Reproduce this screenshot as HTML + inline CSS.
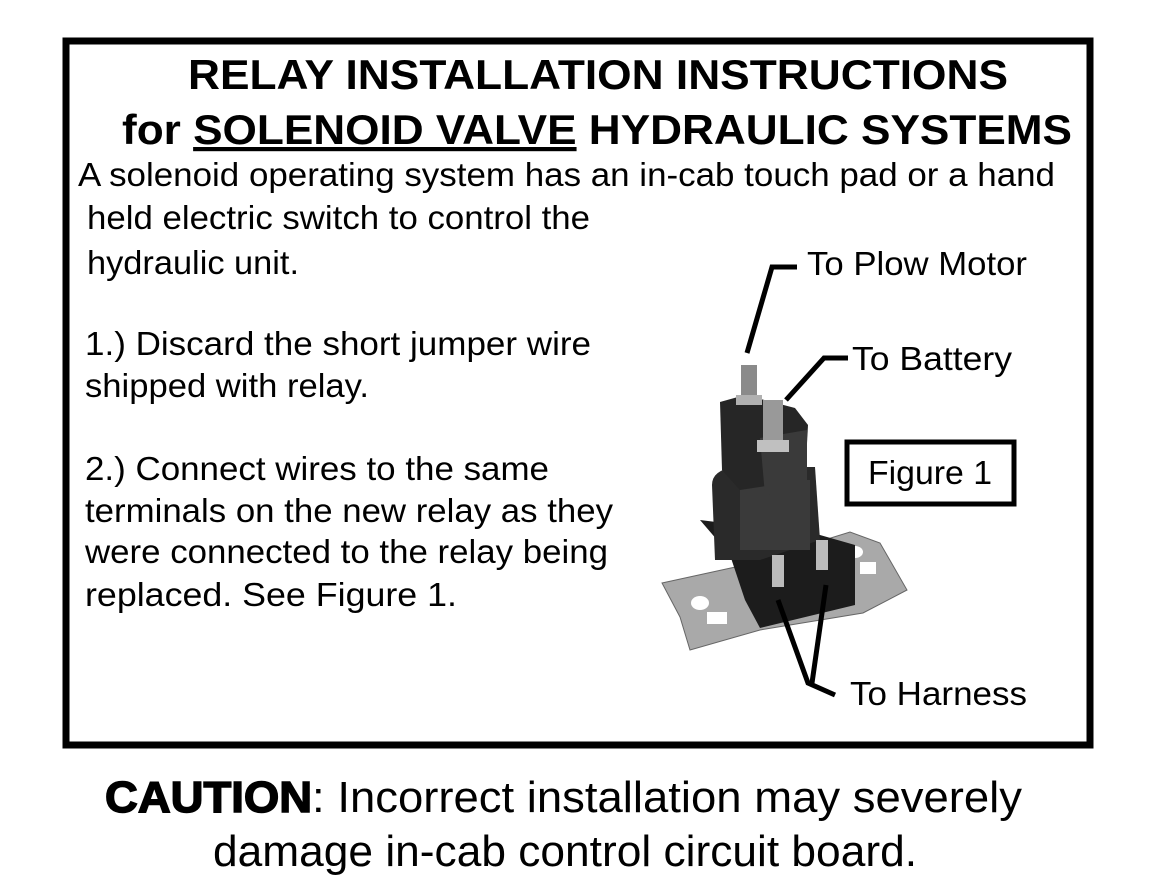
<!DOCTYPE html>
<html><head><meta charset="utf-8"><style>
html,body{margin:0;padding:0;background:#fff;}
svg{display:block;}
text{font-family:"Liberation Sans",Arial,sans-serif;fill:#000;}
</style></head><body>
<svg width="1165" height="888" viewBox="0 0 1165 888" xmlns="http://www.w3.org/2000/svg">
<rect x="0" y="0" width="1165" height="888" fill="#fff"/>
<rect x="66" y="41" width="1024" height="704" fill="none" stroke="#000" stroke-width="7"/>

<text x="188" y="89" font-size="42" font-weight="bold" textLength="820" lengthAdjust="spacingAndGlyphs">RELAY INSTALLATION INSTRUCTIONS</text>
<text x="122" y="144" font-size="42" font-weight="bold" textLength="950" lengthAdjust="spacingAndGlyphs">for <tspan text-decoration="underline">SOLENOID VALVE</tspan> HYDRAULIC SYSTEMS</text>

<g font-size="33">
<text x="78" y="186" textLength="977" lengthAdjust="spacingAndGlyphs">A solenoid operating system has an in-cab touch pad or a hand</text>
<text x="87" y="229" textLength="503" lengthAdjust="spacingAndGlyphs">held electric switch to control the</text>
<text x="87" y="274" textLength="212" lengthAdjust="spacingAndGlyphs">hydraulic unit.</text>
<text x="85" y="355" textLength="506" lengthAdjust="spacingAndGlyphs">1.) Discard the short jumper wire</text>
<text x="85" y="397" textLength="284" lengthAdjust="spacingAndGlyphs">shipped with relay.</text>
<text x="85" y="480" textLength="464" lengthAdjust="spacingAndGlyphs">2.) Connect wires to the same</text>
<text x="85" y="522" textLength="528" lengthAdjust="spacingAndGlyphs">terminals on the new relay as they</text>
<text x="85" y="563" textLength="523" lengthAdjust="spacingAndGlyphs">were connected to the relay being</text>
<text x="85" y="606" textLength="372" lengthAdjust="spacingAndGlyphs">replaced.  See Figure 1.</text>

<text x="807" y="275" textLength="220" lengthAdjust="spacingAndGlyphs">To Plow Motor</text>
<text x="852" y="370" textLength="160" lengthAdjust="spacingAndGlyphs">To Battery</text>
<text x="850" y="705" textLength="177" lengthAdjust="spacingAndGlyphs">To Harness</text>
<text x="868" y="484" textLength="124" lengthAdjust="spacingAndGlyphs">Figure 1</text>
</g>
<rect x="847" y="442" width="167" height="62" fill="none" stroke="#000" stroke-width="5"/>

<!-- relay -->
<polygon points="662,583 740,566 850,532 880,543 907,590 863,613 760,630 690,650 680,617" fill="#a9a9a9" stroke="#666" stroke-width="1"/>
<ellipse cx="700" cy="603" rx="9" ry="7" fill="#fff"/>
<ellipse cx="855" cy="552" rx="8" ry="6" fill="#fff"/>
<rect x="707" y="612" width="20" height="12" fill="#fff"/>
<rect x="860" y="562" width="16" height="12" fill="#fff"/>
<polygon points="700,520 730,555 745,600 760,628 855,605 855,545 820,535" fill="#1c1c1c"/>
<path d="M712,485 Q712,470 735,467 L815,467 L820,540 L760,560 L715,560 Z" fill="#2a2a2a"/>
<rect x="740" y="480" width="70" height="70" fill="#3a3a3a"/>
<polygon points="720,402 745,395 795,408 808,425 805,480 740,490 722,470" fill="#262626"/>
<polygon points="760,438 807,430 807,490 765,495" fill="#3a3a3a"/>
<rect x="741" y="365" width="16" height="40" fill="#8a8a8a"/>
<rect x="736" y="395" width="26" height="10" fill="#b0b0b0"/>
<rect x="763" y="400" width="20" height="46" fill="#999"/>
<rect x="757" y="440" width="32" height="12" fill="#c0c0c0"/>
<rect x="772" y="555" width="12" height="32" fill="#bbb"/>
<rect x="816" y="540" width="12" height="30" fill="#bbb"/>

<g fill="none" stroke="#000" stroke-width="5">
<polyline points="747,353 772,267 797,267"/>
<polyline points="786,400 824,358 848,358"/>
<polyline points="778,600 808,683 835,695"/>
<line x1="826" y1="585" x2="812" y2="683"/>
</g>

<text x="105" y="812" font-size="44" textLength="917" lengthAdjust="spacingAndGlyphs"><tspan font-weight="900" stroke="#000" stroke-width="1.5">CAUTION</tspan>: Incorrect installation may severely</text>
<text x="213" y="866" font-size="44" textLength="704" lengthAdjust="spacingAndGlyphs">damage in-cab control circuit board.</text>
</svg>
</body></html>
